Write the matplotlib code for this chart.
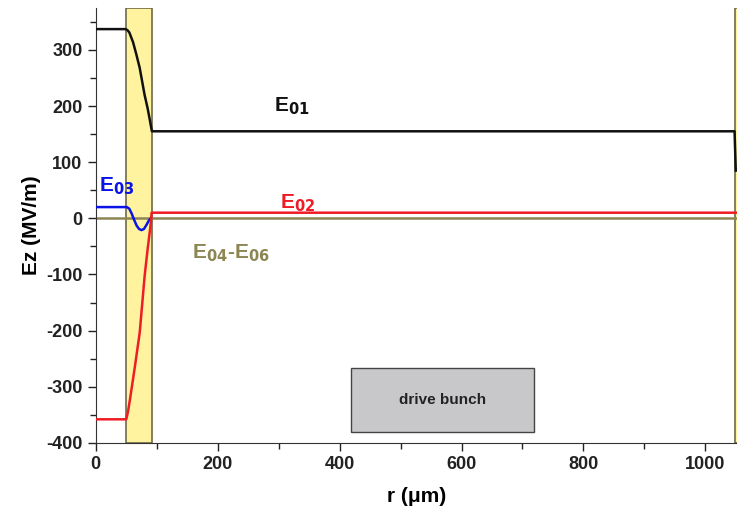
import matplotlib.pyplot as plt
from matplotlib.patches import Rectangle
from matplotlib.ticker import MultipleLocator

plt.rcParams['font.family'] = ['Liberation Sans', 'DejaVu Sans']
plt.rcParams['font.weight'] = 'bold'
plt.rcParams['axes.unicode_minus'] = False

# radial field profiles Ez(r), r in um, Ez in MV/m
r_e01 = [0, 49, 52, 55, 61, 66, 72, 76, 80, 85, 89, 92, 1048, 1049, 1050]
ez_e01 = [337, 337, 335, 331, 314, 294, 268, 244, 220, 196, 173, 155, 155, 120, 85]

r_e02 = [0, 50, 53, 56, 64, 72, 80, 85, 89, 91, 91.5, 1050]
ez_e02 = [-358, -358, -343, -323, -265, -204, -104, -55, -20, 0, 10, 10]

r_e03 = [0, 51, 55, 59, 63, 67, 71, 75, 79, 83, 87, 90]
ez_e03 = [20, 20, 17, 8, -3, -13, -19, -21, -19, -12, -4, 0]

r_e04 = [0, 1050]
ez_e04 = [0, 0]

# dielectric layers and the drive bunch
layers = [(50, 92), (1048, 1100)]
bunch = (419, 719, -380, -266)

fig = plt.figure(figsize=(7.37, 5.18), dpi=100)
ax = fig.add_axes([0.130, 0.145, 0.870, 0.840])

for r0, r1 in layers:
    ax.axvspan(r0, r1, facecolor='#fff3a0', edgecolor='#6e6a48', linewidth=1.2, zorder=0)

ax.plot(r_e04, ez_e04, color='#8c8652', lw=1.8, zorder=2)
ax.plot(r_e03, ez_e03, color='#0a14e6', lw=1.8, zorder=3)
ax.plot(r_e02, ez_e02, color='#ee1c24', lw=1.8, zorder=3)
ax.plot(r_e01, ez_e01, color='#111111', lw=1.8, zorder=4)

x0, x1, y0, y1 = bunch
ax.add_patch(Rectangle((x0, y0), x1 - x0, y1 - y0, facecolor='#c8c8ca',
                       edgecolor='#444444', lw=1.0, zorder=2))
ax.text((x0 + x1) / 2, (y0 + y1) / 2, 'drive bunch', ha='center', va='center',
        fontsize=11, fontweight='bold', color='#222222', zorder=3)

ax.text(292, 190, r'E$_{\mathbf{01}}$', color='#111111', fontsize=15, fontweight='bold')
ax.text(302, 18, r'E$_{\mathbf{02}}$', color='#ee1c24', fontsize=15, fontweight='bold')
ax.text(5, 48, r'E$_{\mathbf{03}}$', color='#0a14e6', fontsize=15, fontweight='bold')
ax.text(157, -72, r'E$_{\mathbf{04}}$-E$_{\mathbf{06}}$', color='#8c8652',
        fontsize=15, fontweight='bold')

ax.set_xlim(0, 1052)
ax.set_ylim(-400, 375)
ax.xaxis.set_major_locator(MultipleLocator(200))
ax.xaxis.set_minor_locator(MultipleLocator(100))
ax.yaxis.set_major_locator(MultipleLocator(100))
ax.yaxis.set_minor_locator(MultipleLocator(50))
ax.tick_params(which='both', direction='out', labelsize=13, width=1.0, colors='#222222')
ax.tick_params(which='major', length=6)
ax.tick_params(which='minor', length=4)
for lbl in ax.get_xticklabels() + ax.get_yticklabels():
    lbl.set_fontweight('bold')

ax.spines['top'].set_visible(False)
ax.spines['right'].set_visible(False)
ax.spines['left'].set_color('#333333')
ax.spines['bottom'].set_color('#333333')

ax.set_xlabel('r (\u03bcm)', fontsize=15, fontweight='bold', labelpad=10)
ax.set_ylabel('Ez (MV/m)', fontsize=15, fontweight='bold', labelpad=4)

fig.savefig('out.png', dpi=100)
